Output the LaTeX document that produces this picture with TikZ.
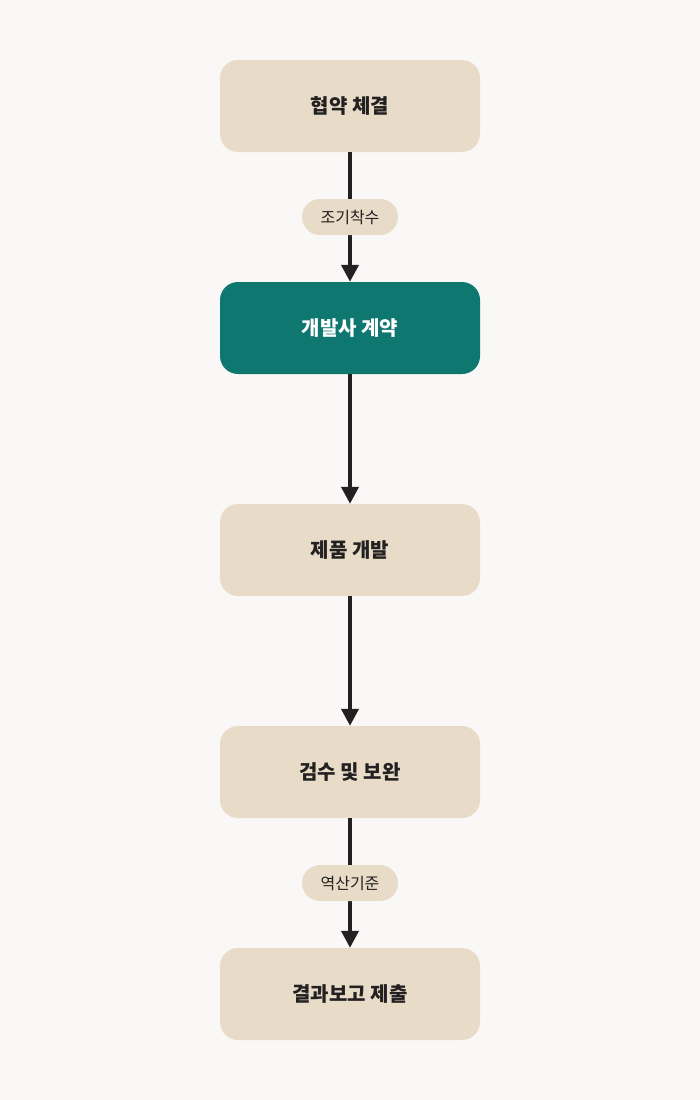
\documentclass[tikz,border=0pt]{standalone}
\usepackage{fontspec}
\setmainfont{Noto Sans CJK KR}
\usetikzlibrary{arrows.meta,positioning,calc}
\definecolor{bgcol}{HTML}{F9F8F6}
\definecolor{boxcol}{HTML}{E8DCC8}
\definecolor{tealcol}{HTML}{0E7770}
\definecolor{inkcol}{HTML}{222020}
\tikzset{
  stage/.style={rectangle, rounded corners=18pt, fill=boxcol, minimum width=260pt, minimum height=92pt,
    text=inkcol, font=\fontsize{20}{24}\selectfont\bfseries},
  stagemain/.style={stage, fill=tealcol, text=white},
  pill/.style={rectangle, rounded corners=18pt, fill=boxcol, minimum width=96pt, minimum height=36pt,
    text=inkcol, font=\fontsize{16}{19}\selectfont},
  flow/.style={draw=inkcol, line width=4pt, -{Triangle[length=17pt,width=17pt]}}
}
\begin{document}
\begin{tikzpicture}[x=1pt,y=1pt,yscale=-1]
\fill[bgcol] (0,0) rectangle (700,1100);
\useasboundingbox (0,0) rectangle (700,1100);

% stages
\node[stage] (agree) at (350,106) {협약 체결};
\node[stagemain] (contract) at (350,328) {개발사 계약};
\node[stage] (develop) at (350,550) {제품 개발};
\node[stage] (review) at (350,772) {검수 및 보완};
\node[stage] (report) at (350,994) {결과보고 제출};

% connectors
\draw[flow] (agree) -- (contract);
\draw[flow] (contract) -- (develop);
\draw[flow] (develop) -- (review);
\draw[flow] (review) -- (report);

% labels
\node[pill] (early) at ($(agree.south)!0.5!(contract.north)$) {조기착수};
\node[pill] (backward) at ($(review.south)!0.5!(report.north)$) {역산기준};
\end{tikzpicture}
\end{document}
